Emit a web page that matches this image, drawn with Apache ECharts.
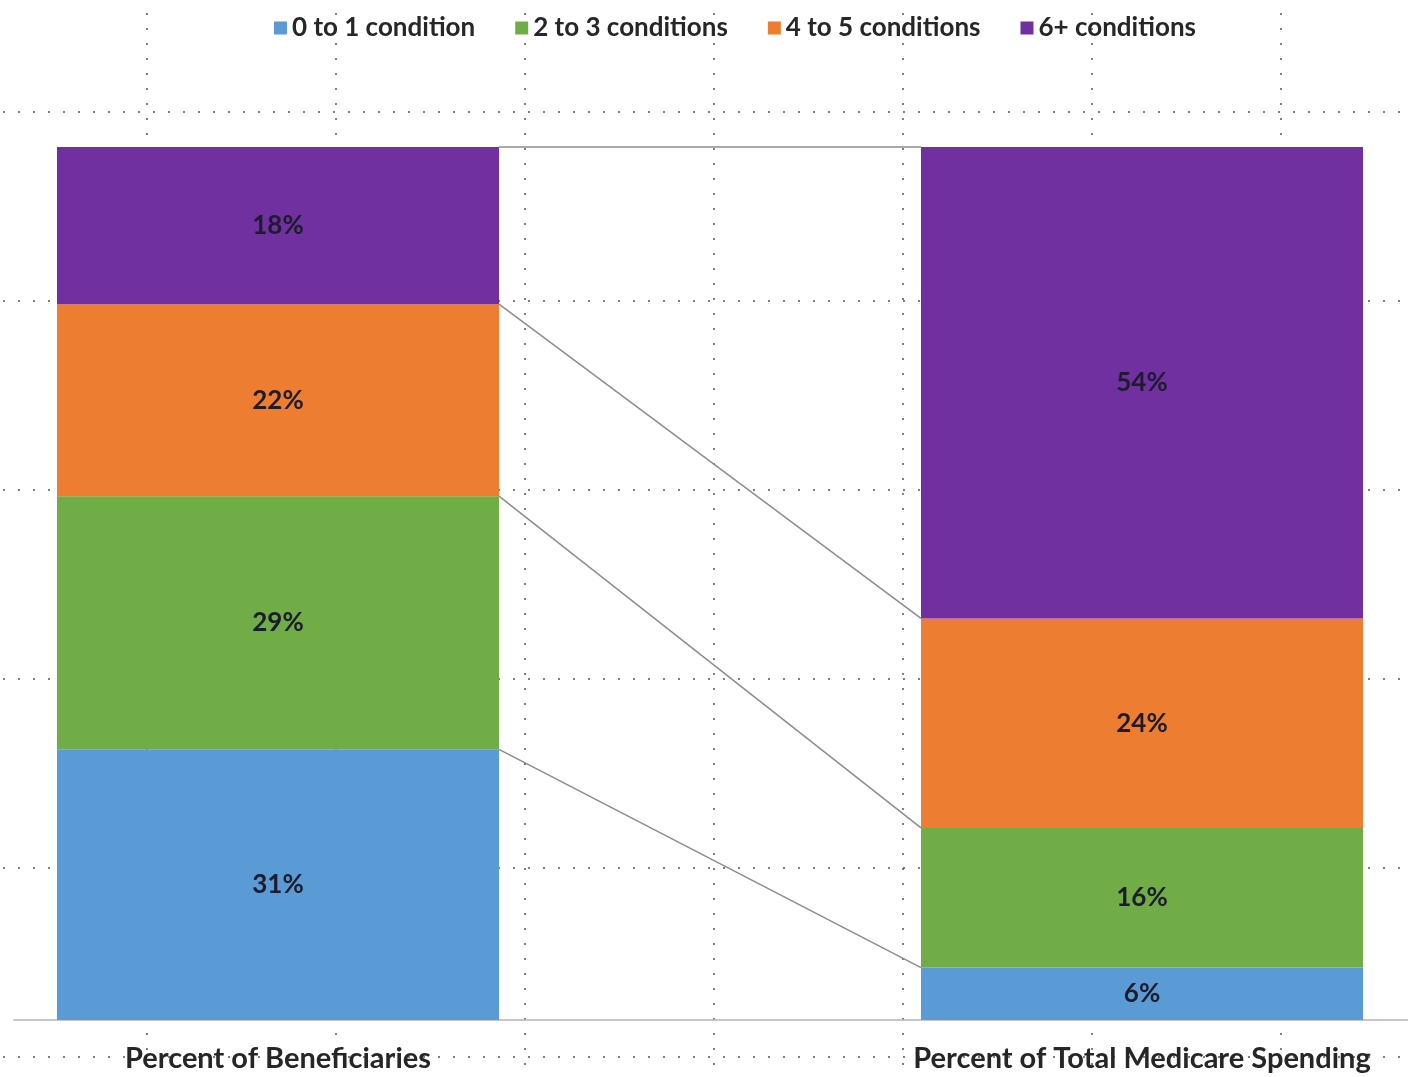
<!DOCTYPE html>
<html>
<head>
<meta charset="utf-8">
<script src="https://cdn.jsdelivr.net/npm/echarts@6/dist/echarts.min.js"></script>
<style>
  html, body { margin: 0; padding: 0; background: #ffffff; }
  #main { width: 1408px; height: 1077px; }
</style>
</head>
<body>
<div id="main"></div>
<script>
var categories = ['Percent of Beneficiaries', 'Percent of Total Medicare Spending'];
var seriesNames = ['0 to 1 condition', '2 to 3 conditions', '4 to 5 conditions', '6+ conditions'];
var seriesColors = ['#5b9bd5', '#70ad47', '#ed7d31', '#7030a0'];
// [beneficiaries, spending]
var cond0to1 = [31, 6];
var cond2to3 = [29, 16];
var cond4to5 = [22, 24];
var cond6plus = [18, 54];
var seriesValues = [cond0to1, cond2to3, cond4to5, cond6plus];

var font = 'Lato, "Open Sans", sans-serif';
var barW = 442;

// cumulative tops for the connector lines
var links = [];
var cumL = 0, cumR = 0;
seriesValues.forEach(function (v) {
    cumL += v[0];
    cumR += v[1];
    links.push([0, cumL, 1, cumR]);
});

var series = seriesNames.map(function (name, i) {
    return {
        name: name,
        type: 'bar',
        stack: 'total',
        barWidth: barW,
        xAxisIndex: 0,
        yAxisIndex: 0,
        itemStyle: { color: seriesColors[i] },
        label: {
            show: true,
            position: 'inside',
            formatter: '{c}%',
            fontFamily: font,
            fontWeight: 'bold',
            fontSize: 26,
            color: '#1c1c2c'
        },
        data: seriesValues[i],
        z: 3
    };
});

series.push({
    type: 'custom',
    xAxisIndex: 0,
    yAxisIndex: 0,
    silent: true,
    encode: { x: [0, 2], y: [1, 3] },
    data: links,
    z: 4,
    renderItem: function (params, api) {
        var a = api.coord([api.value(0), api.value(1)]);
        var b = api.coord([api.value(2), api.value(3)]);
        return {
            type: 'line',
            shape: { x1: a[0] + barW / 2, y1: a[1], x2: b[0] - barW / 2, y2: b[1] },
            style: { stroke: '#8c8c8c', lineWidth: 1.5 }
        };
    }
});

var dotted = { color: '#555555', width: 1.5, type: [2, 13] };

var option = {
    backgroundColor: '#ffffff',
    animation: false,
    legend: {
        top: 10,
        left: 269,
        data: seriesNames,
        icon: 'rect',
        itemWidth: 13,
        itemHeight: 13,
        itemGap: 40,
        textStyle: {
            fontFamily: font,
            fontWeight: 'bold',
            fontSize: 26,
            color: '#262626'
        }
    },
    grid: [
        { left: 278, right: 266, top: 147, bottom: 57 },
        { left: -42, top: -77, width: 1512, height: 1323, outerBoundsMode: 'none' },
        { left: 14, right: 0, top: 147, bottom: 57 }
    ],
    xAxis: [{
        gridIndex: 0,
        type: 'category',
        data: categories,
        boundaryGap: false,
        axisLine: { show: false },
        axisTick: { show: false },
        splitLine: { show: false },
        axisLabel: {
            margin: 24,
            fontFamily: font,
            fontWeight: 'bold',
            fontSize: 29,
            color: '#262626'
        }
    }, {
        gridIndex: 1,
        type: 'value',
        min: 0,
        max: 8,
        interval: 1,
        axisLine: { show: false },
        axisTick: { show: false },
        axisLabel: { show: false },
        splitLine: { show: true, lineStyle: dotted }
    }, {
        gridIndex: 2,
        type: 'value',
        min: 0,
        max: 1,
        axisLine: { show: true, lineStyle: { color: '#b4b4b4', width: 1.5 } },
        axisTick: { show: false },
        axisLabel: { show: false },
        splitLine: { show: false }
    }],
    yAxis: [{
        gridIndex: 0,
        type: 'value',
        min: 0,
        max: 100,
        show: false
    }, {
        gridIndex: 1,
        type: 'value',
        min: 0,
        max: 7,
        interval: 1,
        axisLine: { show: false },
        axisTick: { show: false },
        axisLabel: { show: false },
        splitLine: { show: true, lineStyle: dotted }
    }, {
        gridIndex: 2,
        type: 'value',
        show: false
    }],
    series: series
};

var myChart = echarts.init(document.getElementById('main'));
myChart.setOption(option);
</script>
</body>
</html>
